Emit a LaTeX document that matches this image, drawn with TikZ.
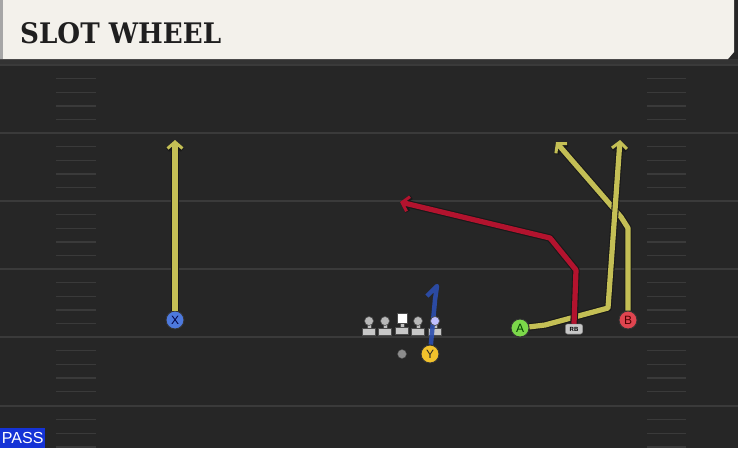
\documentclass[tikz,border=0pt]{standalone}
\usepackage{fontspec}
\setmainfont{Liberation Sans}
\newfontfamily\slabfont{DejaVu Serif Bold}
\usetikzlibrary{arrows.meta, positioning, calc}

\definecolor{turf}{HTML}{262626}
\definecolor{paper}{HTML}{F3F1EB}
\definecolor{chalk}{HTML}{3A3A3A}
\definecolor{wheelyellow}{HTML}{C4BF55}
\definecolor{wheelred}{HTML}{B3132E}
\definecolor{wheelblue}{HTML}{2C4FB0}

\begin{document}
\begin{tikzpicture}[
    x=1pt, y=-1pt,
    player/.style={circle, draw=black!80, line width=0.9pt, minimum size=18pt, inner sep=0pt, font=\fontsize{12}{12}\selectfont},
    line/.style={draw=#1, line width=5.2pt, line join=round,
        -{Straight Barb[length=6.5pt, width=15pt, line width=3pt]},
        preaction={draw=black!90, line width=7.4pt, line join=round, -{Straight Barb[length=6.5pt, width=15pt, line width=5pt]}}},
    stand/.style={circle, draw=black!70, fill=black!28, minimum size=9pt, inner sep=0pt, line width=0.6pt},
    tag/.style={rectangle, rounded corners=2pt, fill=black!22, draw=black!60, font=\fontsize{6}{6}\selectfont\bfseries, minimum width=17pt, minimum height=10pt, inner sep=0pt}
]
\useasboundingbox (0,0) rectangle (738,448);

% Field and header
\fill[turf] (0,0) rectangle (738,448);
\fill[black!80] (0,59) rectangle (738,64);
\fill[paper] (0,0) -- (734,0) -- (734,52) -- (728,59) -- (0,59) -- cycle;
\fill[black!35] (0,0) rectangle (3,59);
\node[anchor=west, inner sep=0pt, text=black!88] (title) at (20,33) {\resizebox{201pt}{21pt}{\slabfont SLOT WHEEL}};

% Yard lines and hashes
\foreach \y in {65,133,201,269,337,406} {
    \draw[chalk, line width=1.8pt] (0,\y) -- (738,\y);
    \foreach \k in {1,2,3,4} {
        \draw[chalk, line width=1.4pt] (56,\y+13.6*\k) -- (96,\y+13.6*\k);
        \draw[chalk, line width=1.4pt] (647,\y+13.6*\k) -- (686,\y+13.6*\k);
    }
}

% Nodes for the formation
\node[player, fill={rgb,255:red,77;green,121;blue,221}, text=blue!25!black] (X) at (175,320) {X};
\node[player, fill={rgb,255:red,124;green,216;blue,74}, text=green!25!black] (A) at (520,328) {A};
\node[player, fill={rgb,255:red,224;green,69;blue,80}, text=red!30!black] (B) at (628,320) {B};
\node[player, fill={rgb,255:red,242;green,194;blue,44}, text=black!85] (Y) at (430,354) {Y};
\node[circle, fill=black!45, draw=black!70, minimum size=9pt, inner sep=0pt] (qb) at (402,354) {};
\node[tag] (RB) at (574,329) {RB};

% Route points
\coordinate (xend) at (175,140);
\coordinate (a1) at (545,325);
\coordinate (a2) at (608,308);
\coordinate (aend) at (620,140);
\coordinate (b1) at (628,228);
\coordinate (b2) at (621,217);
\coordinate (bend) at (556,142);
\coordinate (r1) at (576,270);
\coordinate (r2) at (550,238);
\coordinate (rend) at (400,202);

% Main routes
\path[line=wheelyellow] (X) -- (xend);
\path[line=wheelyellow] (B) -- (b1) -- (b2) -- (bend);
\path[line=wheelyellow] (A) -- (a1) -- (a2) -- (aend);
\path[line=wheelred] (RB.north) -- (r1) -- (r2) -- (rend);
\node[tag] at (RB) {RB};

% Offensive line
\foreach \x/\n in {369/lt, 385/lg, 418/rg, 435/te} {
    \fill[black!25, draw=black!70, line width=0.5pt] (\x-2,324) rectangle (\x+2,329);
    \fill[black!22, draw=black!70, line width=0.5pt] (\x-6.5,328) rectangle (\x+6.5,335);
    \node[stand] (\n) at (\x,321) {};
}
\fill[black!25, draw=black!70, line width=0.5pt] (400,322) rectangle (404,328);
\fill[black!22, draw=black!70, line width=0.5pt] (395.5,327) rectangle (408.5,334);
\node[rectangle, fill=white, draw=black!70, minimum size=10pt, inner sep=0pt] (c) at (402,318) {};

% Y option route
\path[draw=wheelblue, line width=4.5pt, line join=round, opacity=0.9] (Y) -- (435,300) -- (437,286) -- (427,296);
\node[stand, fill=blue!25!white] at (te) {};

% Play type
\node[anchor=south west, fill={rgb,255:red,21;green,51;blue,214}, text=white, inner sep=0pt, minimum width=45pt, minimum height=20pt, font=\fontsize{16}{16}\selectfont] (pass) at (0,448) {PASS};
\end{tikzpicture}
\end{document}
